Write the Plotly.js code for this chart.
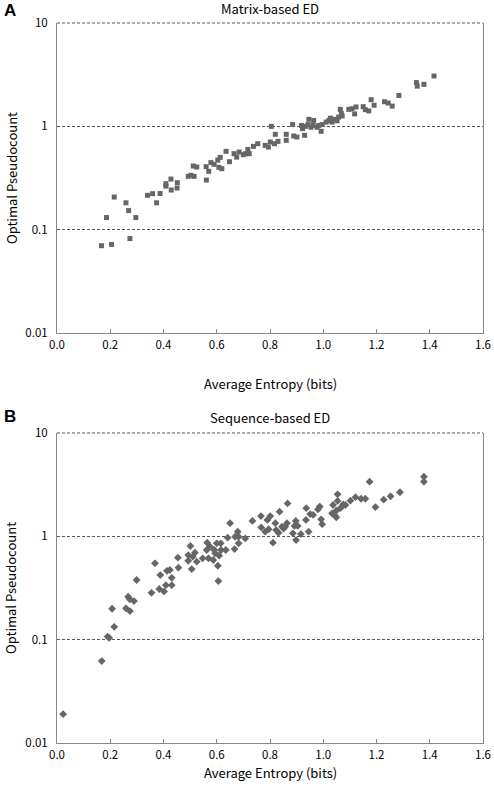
<!DOCTYPE html>
<html>
<head>
<meta charset="utf-8">
<script src="https://cdn.plot.ly/plotly-3.0.1.min.js"></script>
<style>html,body{margin:0;padding:0;background:#fff;}#chart{width:494px;height:787px;}</style>
</head>
<body>
<div id="chart"></div>
<script>
// Panel A: Matrix-based ED
const xA = [0.167,0.205,0.274,0.186,0.215,0.259,0.269,0.296,0.340,0.359,0.374,0.387,0.409,0.409,0.428,0.429,0.452,0.451,0.493,0.503,0.515,0.512,0.525,0.561,0.560,0.570,0.578,0.590,0.604,0.613,0.608,0.619,0.635,0.648,0.665,0.675,0.684,0.700,0.709,0.717,0.722,0.738,0.754,0.782,0.794,0.801,0.820,0.817,0.830,0.805,0.861,0.861,0.885,0.889,0.901,0.918,0.922,0.930,0.933,0.946,0.943,0.954,0.964,0.962,0.977,0.983,0.992,0.996,1.011,1.021,1.027,1.033,1.043,1.052,1.058,1.064,1.068,1.071,1.096,1.108,1.118,1.123,1.150,1.158,1.171,1.180,1.191,1.230,1.244,1.259,1.284,1.350,1.353,1.378,1.416];
const yA = [0.070,0.072,0.082,0.131,0.207,0.182,0.153,0.131,0.215,0.223,0.182,0.224,0.264,0.279,0.309,0.242,0.285,0.253,0.328,0.336,0.328,0.413,0.404,0.302,0.407,0.367,0.446,0.429,0.472,0.501,0.401,0.389,0.573,0.455,0.544,0.504,0.564,0.532,0.544,0.598,0.544,0.640,0.679,0.654,0.630,0.705,0.837,0.679,0.716,1.00,0.837,0.732,1.04,0.806,0.788,1.02,0.951,0.819,1.00,1.17,1.04,0.98,1.14,1.02,0.98,1.02,0.895,1.04,1.10,1.14,1.20,1.10,1.17,1.13,1.23,1.46,1.33,1.26,1.46,1.48,1.32,1.54,1.55,1.45,1.41,1.81,1.60,1.73,1.68,1.57,1.99,2.65,2.45,2.55,3.07];

// Panel B: Sequence-based ED
const xB = [0.023,0.168,0.190,0.196,0.215,0.207,0.259,0.274,0.267,0.274,0.289,0.299,0.355,0.368,0.384,0.388,0.402,0.409,0.413,0.424,0.431,0.431,0.456,0.454,0.493,0.493,0.501,0.506,0.510,0.518,0.525,0.547,0.562,0.564,0.569,0.575,0.587,0.594,0.591,0.600,0.604,0.606,0.609,0.615,0.616,0.634,0.641,0.650,0.667,0.669,0.679,0.682,0.682,0.707,0.734,0.766,0.767,0.782,0.790,0.795,0.801,
  0.811,0.820,0.823,0.832,0.836,0.845,0.851,0.857,0.864,0.866,0.886,0.892,0.897,0.898,0.904,0.916,0.936,0.935,0.945,0.951,0.962,0.980,0.987,0.992,0.996,1.033,1.037,1.042,1.049,1.054,1.054,1.049,1.064,1.075,1.083,1.102,1.121,1.142,1.158,1.174,1.196,1.227,1.253,1.288,1.378,1.378];
const yB = [0.019,0.062,0.107,0.104,0.133,0.199,0.201,0.189,0.260,0.245,0.236,0.378,0.284,0.548,0.309,0.422,0.293,0.337,0.464,0.472,0.337,0.397,0.497,0.621,0.580,0.659,0.806,0.482,0.636,0.695,0.568,0.612,0.737,0.867,0.612,0.793,0.590,0.684,0.737,0.855,0.519,0.369,0.650,0.855,0.737,0.737,0.970,1.34,0.753,0.99,1.11,0.855,0.99,0.955,1.41,1.57,1.22,1.11,1.44,1.17,1.57,
  0.867,1.34,1.15,1.08,1.73,1.24,1.19,1.24,1.34,2.08,1.07,1.26,1.41,0.92,1.26,1.05,1.87,1.44,1.11,1.64,1.61,1.82,1.94,1.46,1.31,1.67,2.01,1.61,1.53,2.55,2.20,1.77,1.87,2.04,2.01,2.21,2.39,2.31,2.31,3.38,1.92,2.26,2.44,2.67,3.78,3.38];

const yTickVals = [0.01, 0.1, 1, 10];
const yTickText = ['0.01', '0.1', '1', '10'];
const xTickVals = [0, 0.2, 0.4, 0.6, 0.8, 1.0, 1.2, 1.4, 1.6];
const xTickText = ['0.0', '0.2', '0.4', '0.6', '0.8', '1.0', '1.2', '1.4', '1.6'];

const FONT = 'Noto Sans CJK JP, Liberation Sans, Arial, sans-serif';
const mk = '#666666';

const traces = [
  {x: xA, y: yA, xaxis: 'x', yaxis: 'y', type: 'scatter', mode: 'markers',
   marker: {symbol: 'square', size: 5, color: mk}, hoverinfo: 'none'},
  {x: xB, y: yB, xaxis: 'x2', yaxis: 'y2', type: 'scatter', mode: 'markers',
   marker: {symbol: 'diamond', size: 6, color: mk}, hoverinfo: 'none'}
];

function xax(anchor) {
  return {anchor: anchor, range: [0, 1.6], tickvals: xTickVals, ticktext: xTickText,
    showgrid: false, zeroline: false, showline: true, linecolor: '#888', linewidth: 1,
    ticks: 'inside', ticklen: 4, tickcolor: '#888', tickwidth: 1,
    tickfont: {family: FONT, size: 11.5, color: '#000'}, ticklabelstandoff: 1, fixedrange: true};
}
function yax(anchor, domain) {
  return {anchor: anchor, domain: domain, type: 'log', range: [-2, 1],
    tickvals: yTickVals, ticktext: yTickText,
    showgrid: true, gridcolor: '#555', griddash: '3px,2px', gridwidth: 1,
    zeroline: false, showline: true, mirror: true, linecolor: '#888', linewidth: 1,
    ticks: '', tickfont: {family: FONT, size: 11.5, color: '#000'}, ticklabelstandoff: 6, fixedrange: true};
}

const tfont = {family: FONT, size: 13, color: '#000'};
const bfont = {family: 'Liberation Sans, Arial, sans-serif', size: 17, color: '#000'};
function ann(text, x, y, xs, ys, font, angle) {
  return {text: text, xref: 'paper', yref: 'paper', x: x, y: y, xshift: xs, yshift: ys,
    xanchor: 'center', yanchor: 'middle', showarrow: false, font: font, textangle: angle || 0};
}
const topLine = (xr, yr) => ({type: 'line', xref: xr + ' domain', yref: yr + ' domain', x0: 0, x1: 1, y0: 1, y1: 1,
  line: {color: '#555', width: 1, dash: '3px,2px'}});

const layout = {
  width: 494, height: 787,
  margin: {l: 57, r: 11, t: 23, b: 44},
  paper_bgcolor: '#fff', plot_bgcolor: '#fff',
  showlegend: false,
  xaxis: xax('y'),
  yaxis: yax('x', [0.5694, 1]),
  xaxis2: xax('y2'),
  yaxis2: yax('x2', [0, 0.4306]),
  shapes: [topLine('x', 'y'), topLine('x2', 'y2')],
  annotations: [
    ann('Matrix-based ED', 0.5, 1, 0, 15, tfont),
    ann('Sequence-based ED', 0.5, 0.4306, 0, 15, tfont),
    ann('<b>A</b>', 0, 1, -47, 13, bfont),
    ann('<b>B</b>', 0, 0.4306, -47, 16, bfont),
    ann('Average Entropy (bits)', 0.5, 0.5694, 0, -50, tfont),
    ann('Average Entropy (bits)', 0.5, 0, 0, -29, tfont),
    ann('Optimal Pseudocount', 0, 0.7847, -46, 0, tfont, -90),
    ann('Optimal Pseudocount', 0, 0.2153, -46, 0, tfont, -90)
  ]
};

Plotly.newPlot('chart', traces, layout, {displayModeBar: false, staticPlot: true});
</script>
</body>
</html>
